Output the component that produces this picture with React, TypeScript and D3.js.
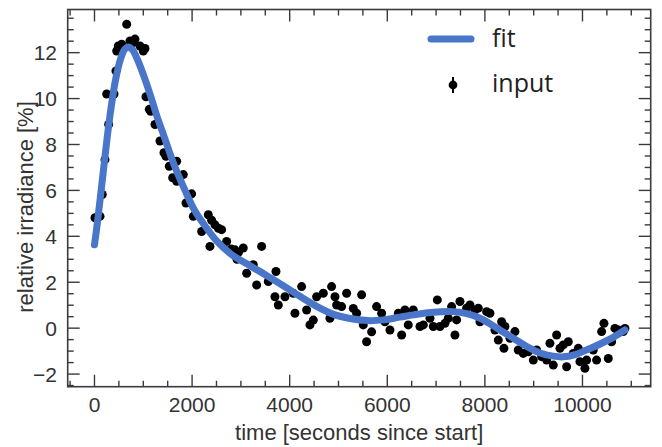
import React from "react";
import * as d3 from "d3";

const inputX = [
  10, 113, 160, 215, 290, 250, 400, 440, 455, 488, 557, 660, 727, 795, 830, 932, 1000, 1035,
  1055, 1123, 1151, 1240, 1342, 1424, 1465, 1533, 1684, 1602, 1820, 1684, 1991, 1875,
  2025, 2332, 2196, 2469, 2605, 2708, 2366, 2879, 3049, 3425, 3118, 3254, 3323, 3562, 3719,
  3698, 3767, 3903, 4074, 4245, 4108, 4347, 4484, 4415, 4552, 4689, 4859, 4928, 4825, 4962,
  5064, 5167, 5303, 5474, 5372, 5508, 5679, 5576, 5781, 2400, 2540, 2800, 2950, 2920,
  5884, 5952, 6055, 6226, 6294, 6362, 6430, 6533, 6670, 6738, 6875, 6943, 7025, 7079, 7182,
  7250, 7318, 7387, 7421, 7489, 7626, 7694, 7797, 7865, 7899, 8036, 8104, 8206, 8275, 8343,
  8411, 8391, 8514, 8616, 8684, 8787, 8889, 8992, 9060, 9163, 9265, 9333, 9402, 9470, 9538,
  9606, 9675, 9709, 9811, 9914, 9948, 10050, 10085, 10221, 10289, 10392, 10440, 10529, 10597,
  10665, 10734, 10836, 10870,
];
const inputY = [
  4.81, 4.87, 5.82, 7.34, 8.87, 10.2, 10.2, 11.2, 12.07, 12.29, 12.37, 13.24, 12.51, 12.44, 12.59, 12.29, 12.07, 12.18,
  10.08, 9.53, 9.45, 8.87, 8.15, 7.64, 7.49, 7.05, 7.27, 6.55, 6.69, 6.4, 5.85, 5.45,
  4.87, 4.94, 4.21, 4.5, 4.29, 3.78, 3.56, 3.41, 3.49, 3.56, 2.39, 2.76, 1.88, 2.03, 2.47,
  1.37, 1.01, 1.37, 1.52, 1.81, 0.65, 0.79, 0.35, 0.14, 1.37, 1.52, 1.81, 1.37, 0.43, 1.01,
  0.94, 1.52, 0.86, 1.45, 0.65, 0.14, -0.16, -0.59, 0.94, 4.7, 4.35, 3.45, 3.3, 3.0,
  0.65, 0.28, -0.08, 0.65, -0.3, 0.79, 0.14, 0.79, 0.07, 0.14, 0.43, 0.07, 1.23, 0.07, 0.21,
  0.43, 0.94, -0.3, 0.36, 1.16, 0.87, 1.01, 0.79, 0.87, 0.28, 0.72, 0.65, -0.08, -0.52, 0.28,
  0.07, -0.88, -0.44, -0.15, -0.95, -1.1, -1.03, -1.39, -0.95, -1.24, -1.39, -0.66, -1.61, -0.3, -0.88,
  -0.73, -1.68, -0.59, -1.1, -0.88, -1.46, -1.75, -1.39, -0.95, -1.39, -0.15, 0.21, -1.32, -0.59,
  -0.01, -0.08, -0.15, -0.01,
];

const fitX = [
  0, 60, 120, 190, 260, 340, 430, 530, 620, 690, 780, 880, 1000, 1137, 1300, 1410, 1615, 1855,
  2059, 2300, 2503, 2800, 3186, 3500, 3869, 4200, 4553, 4900, 5236, 5600, 5918, 6260, 6533,
  6900, 7352, 7650, 7900, 8250, 8582, 8900, 9129, 9400, 9604, 9850, 10082, 10350, 10629, 10870,
];
const fitY = [
  3.63, 4.6, 5.7, 7.0, 8.3, 9.6, 10.8, 11.7, 12.15, 12.25, 12.12, 11.7, 11.05, 10.2, 9.1, 8.45, 7.2, 6.0,
  5.1, 4.35, 3.8, 3.22, 2.72, 2.33, 1.85, 1.4, 0.95, 0.6, 0.42, 0.33, 0.36, 0.48, 0.58,
  0.68, 0.72, 0.62, 0.43, 0.0, -0.44, -0.85, -1.08, -1.22, -1.25, -1.15, -0.95, -0.7, -0.4, -0.08,
];

const xMajor = [0, 2000, 4000, 6000, 8000, 10000];
const yMajor = [-2, 0, 2, 4, 6, 8, 10, 12];
const xTitle = "time [seconds since start]";
const yTitle = "relative irradiance [%]";
const legendLabels = ["fit", "input"];

const W = 662, H = 447;
const L = 67.7, R = 650.7, T = 9.5, B = 386.7;
const BLUE = "#4a76c9";
const AX = "#3a3a3a";

export default function App() {
  const x = d3.scaleLinear().domain([-549, 11398]).range([L, R]);
  const y = d3.scaleLinear().domain([-2.55, 13.88]).range([B, T]);
  const xMinor = d3.range(-500, 11400, 500).filter((v) => v % 2000 !== 0);
  const yMinor = d3.range(-2.5, 13.9, 0.5).filter((v) => Math.abs(v % 2) > 1e-9);
  const line = d3
    .line<number>()
    .x((_, i) => x(fitX[i]))
    .y((d) => y(d))
    .curve(d3.curveCatmullRom.alpha(0.5));
  const MJ = 12, MN = 6;
  const tickFont = "'Liberation Sans', Arial, sans-serif";
  return (
    <svg width={W} height={H} style={{ position: "absolute", left: 0, top: 0, background: "#fff" }}>
      <rect x={0} y={0} width={W} height={H} fill="#fff" />
      {inputX.map((vx, i) => (
        <circle key={"p" + i} cx={x(vx)} cy={y(inputY[i])} r={4.5} fill="#000" />
      ))}
      <path d={line(fitY) || ""} fill="none" stroke={BLUE} strokeWidth={7} strokeLinecap="round" strokeLinejoin="round" />
      <g stroke={AX} strokeWidth={1.4}>
        {xMajor.map((v) => (
          <g key={"xm" + v}>
            <line x1={x(v)} x2={x(v)} y1={B} y2={B - MJ} />
            <line x1={x(v)} x2={x(v)} y1={T} y2={T + MJ} />
          </g>
        ))}
        {xMinor.map((v) => (
          <g key={"xn" + v}>
            <line x1={x(v)} x2={x(v)} y1={B} y2={B - MN} />
            <line x1={x(v)} x2={x(v)} y1={T} y2={T + MN} />
          </g>
        ))}
        {yMajor.map((v) => (
          <g key={"ym" + v}>
            <line x1={L} x2={L + MJ} y1={y(v)} y2={y(v)} />
            <line x1={R} x2={R - MJ} y1={y(v)} y2={y(v)} />
          </g>
        ))}
        {yMinor.map((v) => (
          <g key={"yn" + v}>
            <line x1={L} x2={L + MN} y1={y(v)} y2={y(v)} />
            <line x1={R} x2={R - MN} y1={y(v)} y2={y(v)} />
          </g>
        ))}
      </g>
      <rect x={L} y={T} width={R - L} height={B - T} fill="none" stroke={AX} strokeWidth={1.6} />
      <g fontFamily={tickFont} fontSize={21} fill="#333">
        {xMajor.map((v) => (
          <text key={"xl" + v} x={x(v)} y={412} textAnchor="middle">
            {v}
          </text>
        ))}
        {yMajor.map((v) => (
          <text key={"yl" + v} x={57} y={y(v)} dy="0.36em" textAnchor="end">
            {v < 0 ? "\u2212" + Math.abs(v) : v}
          </text>
        ))}
        <text x={(L + R) / 2} y={440} textAnchor="middle" fontSize={22}>
          {xTitle}
        </text>
        <text transform={`translate(33,207) rotate(-90)`} textAnchor="middle" fontSize={22}>
          {yTitle}
        </text>
      </g>
      <line x1={431} x2={471} y1={39} y2={39} stroke={BLUE} strokeWidth={7} strokeLinecap="round" />
      <line x1={453} x2={453} y1={77} y2={93} stroke="#000" strokeWidth={2} />
      <circle cx={453} cy={85} r={4.4} fill="#000" />
      <g fontFamily="'Open Sans', sans-serif" fontSize={25} fill="#222">
        <text x={492} y={47}>{legendLabels[0]}</text>
        <text x={492} y={92}>{legendLabels[1]}</text>
      </g>
    </svg>
  );
}
